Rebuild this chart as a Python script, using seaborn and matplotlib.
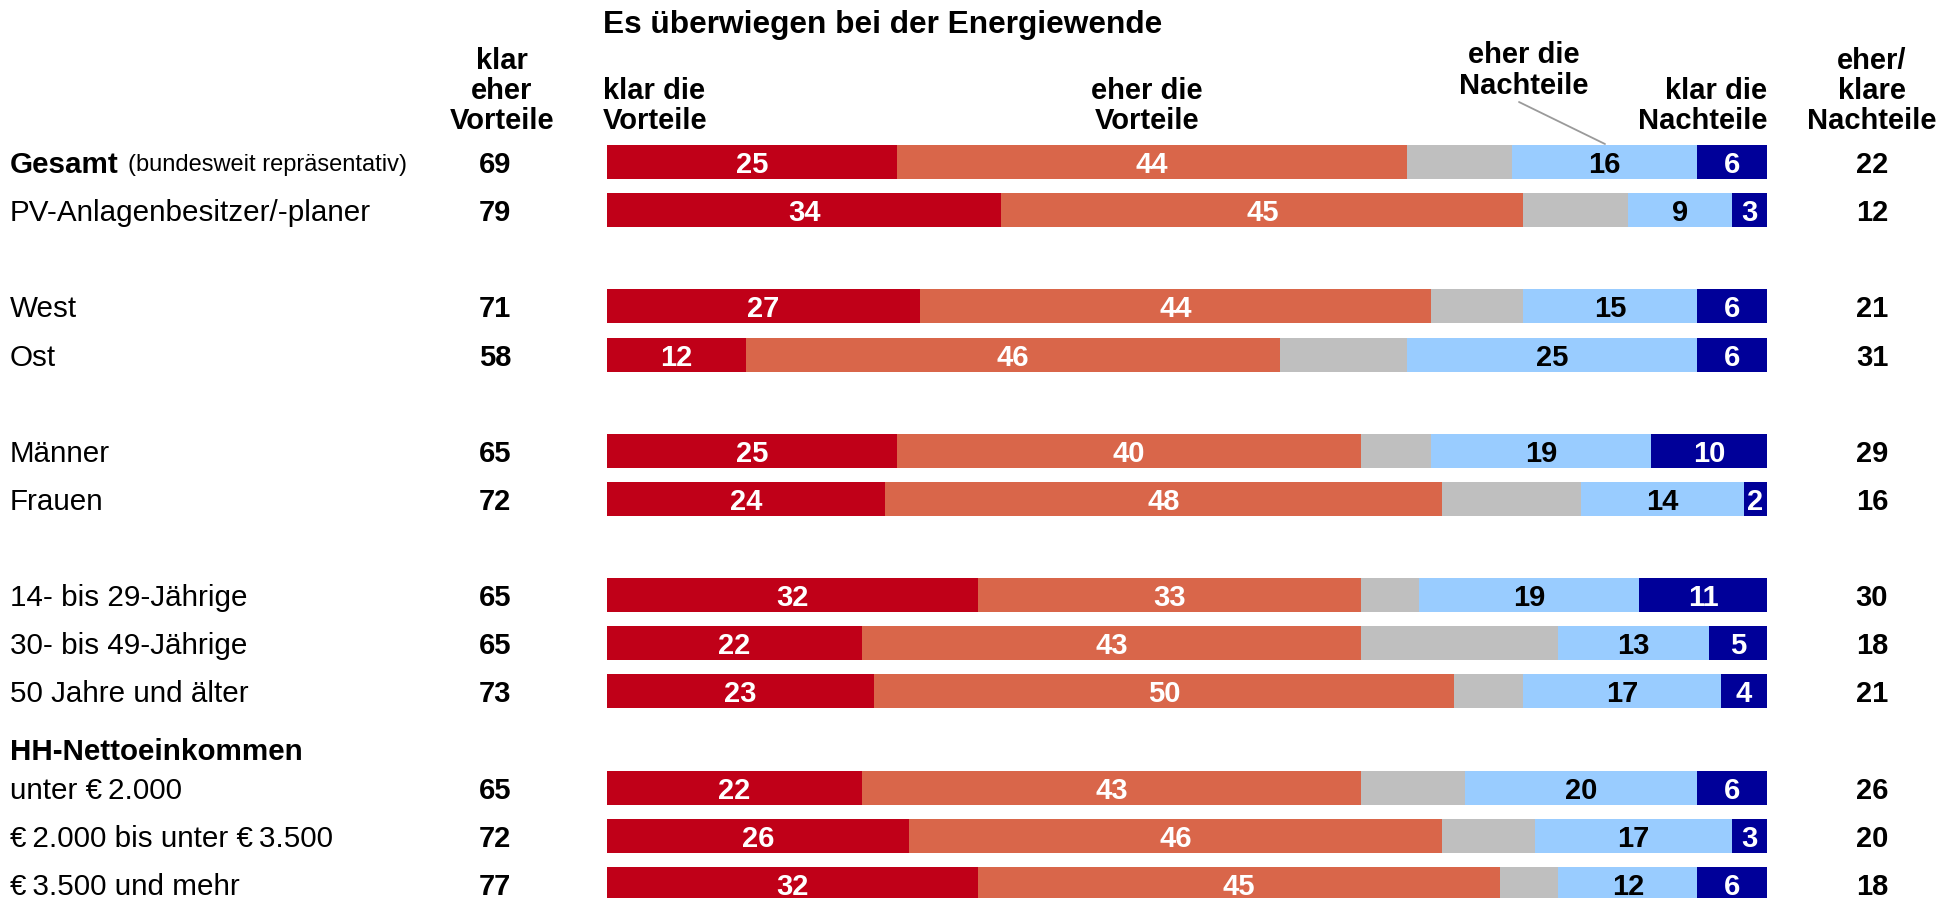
import matplotlib
matplotlib.use("Agg")
import matplotlib.pyplot as plt
from matplotlib.transforms import blended_transform_factory
from matplotlib.lines import Line2D
import seaborn as sns
import pandas as pd
import numpy as np

# ---------------- data ----------------
groups = ["Gesamt", "PV-Anlagenbesitzer/-planer", "West", "Ost", "Männer", "Frauen",
          "14- bis 29-Jährige", "30- bis 49-Jährige", "50 Jahre und älter",
          "unter €\u20092.000", "€\u20092.000 bis unter €\u20093.500", "€\u20093.500 und mehr"]
row_pos = [0, 1, 3, 4, 6, 7, 9, 10, 11, 13, 14, 15]
klar_vorteile = [25, 34, 27, 12, 25, 24, 32, 22, 23, 22, 26, 32]
eher_vorteile = [44, 45, 44, 46, 40, 48, 33, 43, 50, 43, 46, 45]
unentschieden = [9, 9, 8, 11, 6, 12, 5, 17, 6, 9, 8, 5]
eher_nachteile = [16, 9, 15, 25, 19, 14, 19, 13, 17, 20, 17, 12]
klar_nachteile = [6, 3, 6, 6, 10, 2, 11, 5, 4, 6, 3, 6]
sum_vorteile = [69, 79, 71, 58, 65, 72, 65, 65, 73, 65, 72, 77]
sum_nachteile = [22, 12, 21, 31, 29, 16, 30, 18, 21, 26, 20, 18]

seg_names = ["klar die Vorteile", "eher die Vorteile", "unentschieden",
             "eher die Nachteile", "klar die Nachteile"]
seg_colors = ["#C00018", "#D9664A", "#BFBFBF", "#99CCFF", "#000099"]
seg_text_colors = ["white", "white", None, "black", "white"]

df = pd.DataFrame({
    "gruppe": groups, "pos": row_pos,
    seg_names[0]: klar_vorteile, seg_names[1]: eher_vorteile,
    seg_names[2]: unentschieden, seg_names[3]: eher_nachteile,
    seg_names[4]: klar_nachteile,
})

# ---------------- figure ----------------
sns.set_theme(style="white")
plt.rcParams["font.family"] = ["Liberation Sans", "DejaVu Sans"]
plt.rcParams["text.color"] = "black"

W, H = 1944, 898
fig = plt.figure(figsize=(W / 100, H / 100), dpi=100)

def fx(px):
    return px / W

def fy(py):
    return 1 - py / H

row0_px = 162.0
row_step = 48.13
bar_h = 34 / row_step

ax = fig.add_axes([607 / W, 0, 1160 / W, 1])

cum = df[seg_names].cumsum(axis=1)
for i in range(len(seg_names) - 1, -1, -1):
    sns.barplot(data=df, x=cum[seg_names[i]], y="pos", orient="h", native_scale=True,
                color=seg_colors[i], saturation=1, width=bar_h, errorbar=None,
                linewidth=0, ax=ax)

ax.set_xlim(0, 100)
ax.set_ylim((H - row0_px) / row_step, -row0_px / row_step)
ax.axis("off")

NUM_FS = 21
LAB_FS = 21.3

# segment labels
for r in range(len(df)):
    left = 0
    for i, name in enumerate(seg_names):
        v = df[name].iloc[r]
        if seg_text_colors[i] is not None:
            ax.text(left + v / 2, df["pos"].iloc[r], str(v), ha="center", va="center_baseline",
                    color=seg_text_colors[i], fontsize=NUM_FS, fontweight="bold")
        left += v

tr = blended_transform_factory(fig.transFigure, ax.transData)

# row labels and side numbers
for r in range(len(df)):
    y = df["pos"].iloc[r]
    name = groups[r]
    if name == "Gesamt":
        ax.text(fx(10), y, "Gesamt", transform=tr, ha="left", va="center_baseline",
                fontsize=LAB_FS, fontweight="bold", color="black")
        ax.text(fx(128), y, "(bundesweit repräsentativ)", transform=tr, ha="left",
                va="center_baseline", fontsize=17, color="black")
    else:
        ax.text(fx(10), y, name, transform=tr, ha="left", va="center_baseline",
                fontsize=LAB_FS, color="black")
    ax.text(fx(495), y, str(sum_vorteile[r]), transform=tr, ha="center",
            va="center_baseline", fontsize=NUM_FS, fontweight="bold", color="black")
    ax.text(fx(1872), y, str(sum_nachteile[r]), transform=tr, ha="center",
            va="center_baseline", fontsize=NUM_FS, fontweight="bold", color="black")

ax.text(fx(10), 12.2, "HH-Nettoeinkommen", transform=tr, ha="left", va="center_baseline",
        fontsize=LAB_FS, fontweight="bold", color="black")

# headers
HFS = 21
fig.text(fx(603), fy(22), "Es überwiegen bei der Energiewende", ha="left",
         va="center_baseline", fontsize=22.8, fontweight="bold", color="black")

def header(x, ys, lines, ha):
    for yy, line in zip(ys, lines):
        fig.text(fx(x), fy(yy), line, ha=ha, va="center_baseline", fontsize=HFS,
                 fontweight="bold", color="black")

header(502, [58, 88, 118], ["klar", "eher", "Vorteile"], "center")
header(603, [88, 118], ["klar die", "Vorteile"], "left")
header(1147, [88, 118], ["eher die", "Vorteile"], "center")
header(1524, [52, 83], ["eher die", "Nachteile"], "center")
header(1767, [88, 118], ["klar die", "Nachteile"], "right")
header(1872, [58, 88, 118], ["eher/", "klare", "Nachteile"], "center")

fig.add_artist(Line2D([fx(1519), fx(1605)], [fy(102), fy(144)], color="#9A9A9A", lw=1.3))

fig.savefig("out.png", dpi=100)
